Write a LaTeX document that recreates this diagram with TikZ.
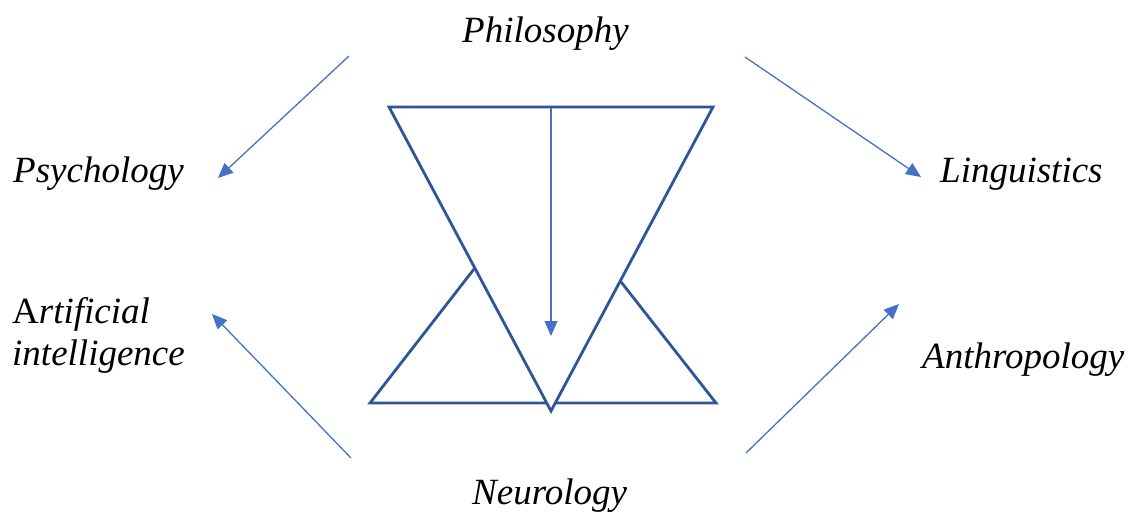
\documentclass[tikz,border=0pt]{standalone}
\usepackage{fontspec}
\setmainfont{Liberation Serif}
\usetikzlibrary{arrows.meta}
\definecolor{shapeblue}{HTML}{2F5597}
\definecolor{arrowblue}{HTML}{4472C4}
\tikzset{
  lbl/.style={anchor=base west, inner sep=0pt, font=\fontsize{37}{42}\selectfont\itshape},
  tri/.style={draw=shapeblue, line width=2.8pt, line join=miter},
  conn/.style={draw=arrowblue, line width=1.3pt, -{Triangle[length=15pt,width=13pt]}}
}
\begin{document}
\begin{tikzpicture}[x=1pt,y=-1pt]
\useasboundingbox (0,0) rectangle (1130,513);
% labels
\node[lbl] (phil) at (462,43) {Philosophy};
\node[lbl] (psy) at (13,183) {Psychology};
\node[lbl] (ling) at (940,183) {Linguistics};
\node[lbl] (ai) at (12,323) {\upshape A\itshape rtificial};
\node[lbl] (ai2) at (12,365) {intelligence};
\node[lbl] (anth) at (922,368) {Anthropology};
\node[lbl] (neuro) at (472,504) {Neurology};
% triangles (visible parts of the two upright triangles)
\draw[tri] (547,403) -- (370,403) -- (474.8,268);
\draw[tri] (555,403) -- (716,403) -- (620.3,281);
\draw[tri, fill=white] (389,107) -- (713,107) -- (551,411) -- cycle;
% coordinates for connector ends
\coordinate (c1s) at (349,56);  \coordinate (c1e) at (218,178);
\coordinate (c2s) at (745,57);  \coordinate (c2e) at (921,177);
\coordinate (c3s) at (351,458); \coordinate (c3e) at (212,314);
\coordinate (c4s) at (746,453); \coordinate (c4e) at (899,304);
\coordinate (c5s) at (551,108); \coordinate (c5e) at (551,336);
\draw[conn] (c1s) -- (c1e);
\draw[conn] (c2s) -- (c2e);
\draw[conn] (c3s) -- (c3e);
\draw[conn] (c4s) -- (c4e);
\draw[conn] (c5s) -- (c5e);
\end{tikzpicture}
\end{document}
